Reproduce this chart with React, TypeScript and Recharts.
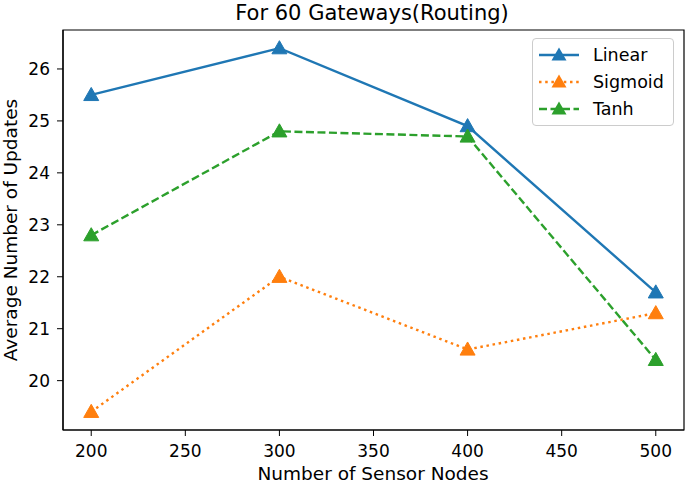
import React from 'react'
import { LineChart, Line, XAxis, YAxis, ReferenceArea } from 'recharts'

const nodes = [200, 300, 400, 500]
const linear = [25.5, 26.4, 24.9, 21.7]
const sigmoid = [19.4, 22.0, 20.6, 21.3]
const tanh = [22.8, 24.8, 24.7, 20.4]
const xTicks = [200, 250, 300, 350, 400, 450, 500]
const yTicks = [20, 21, 22, 23, 24, 25, 26]

const FONT = '"DejaVu Sans", sans-serif'

const series = [
  { key: 'linear', name: 'Linear', color: '#1f77b4', dash: undefined as string | undefined },
  { key: 'sigmoid', name: 'Sigmoid', color: '#ff7f0e', dash: '2.5 3.7' },
  { key: 'tanh', name: 'Tanh', color: '#2ca02c', dash: '8 3.5' },
]

const data = nodes.map((n, i) => ({ n, linear: linear[i], sigmoid: sigmoid[i], tanh: tanh[i] }))

// triangle marker like matplotlib '^'
const triangle = (color: string) => (props: any) => {
  const { cx, cy, index } = props
  if (cx == null || cy == null) return <g key={index} />
  const r = 7.5
  return (
    <polygon
      key={index}
      points={`${cx},${cy - r} ${cx - r},${cy + r * 0.75} ${cx + r},${cy + r * 0.75}`}
      fill={color}
      stroke={color}
    />
  )
}

function LegendBox() {
  return (
    <div
      style={{
        position: 'absolute',
        left: 532,
        top: 38,
        width: 142,
        height: 88,
        border: '1px solid #ccc',
        borderRadius: 4,
        background: 'rgba(255,255,255,0.8)',
        fontFamily: FONT,
        fontSize: 17.5,
        color: '#000',
        boxSizing: 'border-box',
        paddingTop: 2,
      }}
    >
      {series.map((s) => (
        <div key={s.key} style={{ display: 'flex', alignItems: 'center', height: 27 }}>
          <svg width={46} height={20} style={{ marginLeft: 4 }}>
            <line x1={2} y1={10} x2={42} y2={10} stroke={s.color} strokeWidth={2.4} strokeDasharray={s.dash} />
            <polygon points="22,2.5 14.5,15.6 29.5,15.6" fill={s.color} />
          </svg>
          <span style={{ marginLeft: 10 }}>{s.name}</span>
        </div>
      ))}
    </div>
  )
}

export default function App() {
  return (
    <div style={{ position: 'fixed', left: 0, top: 0, width: 685, height: 484, background: '#fff', overflow: 'hidden' }}>
      <LineChart
        width={685}
        height={484}
        data={data}
        margin={{ top: 30, right: 1, bottom: 0, left: 0 }}
        style={{ position: 'absolute', left: 0, top: 0 }}
      >
        <XAxis
          dataKey="n"
          type="number"
          domain={[185, 515]}
          ticks={xTicks}
          allowDataOverflow
          height={54}
          axisLine={{ stroke: '#000', strokeWidth: 1.2 }}
          tickLine={{ stroke: '#000' }}
          tickSize={6}
          tickMargin={9}
          tick={{ fill: '#000', fontSize: 17, fontFamily: FONT }}
        />
        <YAxis
          type="number"
          domain={[19.05, 26.75]}
          ticks={yTicks}
          allowDataOverflow
          width={63}
          axisLine={{ stroke: '#000', strokeWidth: 1.2 }}
          tickLine={{ stroke: '#000' }}
          tickSize={6}
          tickMargin={7}
          tick={{ fill: '#000', fontSize: 17, fontFamily: FONT }}
        />
        <ReferenceArea x1={185} x2={515} y1={19.05} y2={26.75} fill="none" stroke="#000" strokeWidth={1.2} />
        {series.map((s) => (
          <Line
            key={s.key}
            dataKey={s.key}
            name={s.name}
            stroke={s.color}
            strokeWidth={2.4}
            strokeDasharray={s.dash}
            dot={triangle(s.color)}
            activeDot={false}
            isAnimationActive={false}
          />
        ))}
      </LineChart>
      <div
        style={{
          position: 'absolute',
          left: 222,
          width: 300,
          top: 3,
          textAlign: 'center',
          fontFamily: FONT,
          fontSize: 21,
          lineHeight: '21px',
          whiteSpace: 'nowrap',
        }}
      >
        For 60 Gateways(Routing)
      </div>
      <div
        style={{
          position: 'absolute',
          left: 223,
          width: 300,
          top: 464,
          textAlign: 'center',
          fontFamily: FONT,
          fontSize: 18.5,
          lineHeight: '20px',
          whiteSpace: 'nowrap',
        }}
      >
        Number of Sensor Nodes
      </div>
      <div
        style={{
          position: 'absolute',
          left: 11,
          top: 230,
          transform: 'translate(-50%, -50%) rotate(-90deg)',
          whiteSpace: 'nowrap',
          fontFamily: FONT,
          fontSize: 18.5,
          lineHeight: '22px',
        }}
      >
        Average Number of Updates
      </div>
      <LegendBox />
    </div>
  )
}
